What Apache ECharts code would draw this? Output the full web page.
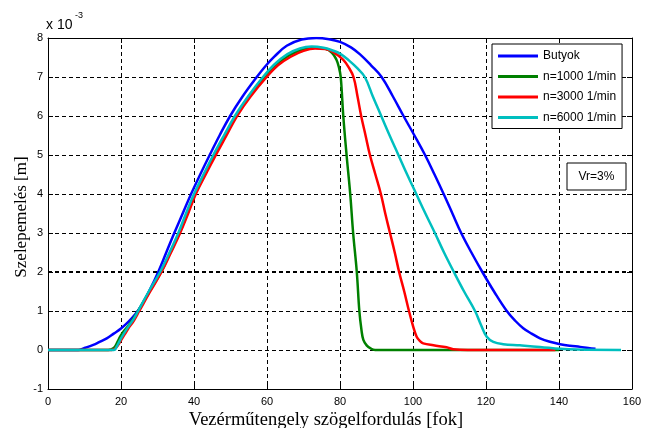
<!DOCTYPE html>
<html>
<head>
<meta charset="utf-8">
<script src="https://cdn.jsdelivr.net/npm/echarts@6/dist/echarts.min.js"></script>
<style>html,body{margin:0;padding:0;background:#fff;}#c{width:652px;height:428px;}</style>
</head>
<body>
<div id="c"></div>
<script>
var xTicks = [0, 20, 40, 60, 80, 100, 120, 140, 160];
var yTicks = [-1, 0, 1, 2, 3, 4, 5, 6, 7, 8];
var seriesNames = ['Butyok', 'n=1000 1/min', 'n=3000 1/min', 'n=6000 1/min'];

var butyok = [[0,0],[8.3,0],[10,0.05],[12.4,0.13],[14,0.2],[16.1,0.3],[18,0.42],[20,0.55],[22,0.72],[24,0.93],[26,1.2],[28,1.56],[30.2,2.0],[32.4,2.5],[34.6,3.0],[36.9,3.5],[39.2,4.0],[41.7,4.5],[44.3,5.0],[47,5.5],[49.9,6.0],[53.3,6.5],[57.2,7.0],[59.5,7.27],[62,7.52],[65.4,7.8],[69.5,7.96],[73.5,8.0],[77,7.97],[80,7.9],[83,7.76],[85.5,7.58],[88.5,7.3],[91.4,7.0],[94.5,6.5],[97.4,6.0],[100.4,5.5],[103.3,5.0],[105.9,4.5],[108.4,4.0],[110.8,3.5],[113.2,3.0],[116,2.5],[119,2.0],[122.2,1.5],[125.7,1.0],[128,0.75],[130.2,0.56],[132.5,0.42],[134.8,0.3],[137.5,0.21],[140.3,0.15],[143,0.11],[145.8,0.08],[148,0.05],[150,0.03]];
var n1000 = [[0,0],[16.5,0],[18,0.05],[19,0.2],[19.8,0.35],[20.5,0.45],[22,0.62],[23.5,0.82],[24.7,1.0],[27.8,1.5],[31,2.0],[33.5,2.5],[36,3.0],[38.2,3.5],[40.3,4.0],[42.9,4.5],[45.6,5.0],[48.5,5.5],[51.5,6.0],[55,6.5],[59.5,7.0],[62.5,7.3],[66,7.55],[69.5,7.7],[73,7.75],[76,7.72],[77.8,7.62],[79,7.45],[79.7,7.25],[80.2,7.0],[80.9,6.0],[81.8,5.0],[82.8,4.0],[83.6,3.0],[84.6,2.0],[85.3,1.0],[85.9,0.5],[86.4,0.26],[87.3,0.12],[88.4,0.04],[89.6,0],[140,0]];
var n3000 = [[0,0],[17.5,0],[19,0.1],[20,0.25],[21,0.4],[22,0.55],[23.5,0.75],[25,1.0],[28,1.5],[31.1,2.0],[33.7,2.5],[36.2,3.0],[38.4,3.5],[40.5,4.0],[43.2,4.5],[46,5.0],[48.9,5.5],[51.8,6.0],[55.5,6.5],[59.9,7.0],[63,7.3],[66.5,7.52],[70,7.67],[73.2,7.73],[76,7.72],[78.5,7.62],[80.9,7.44],[82.3,7.26],[83.7,7.0],[84.8,6.5],[85.8,6.0],[87,5.5],[88.2,5.0],[89.7,4.5],[91.2,4.0],[92.4,3.5],[93.7,3.0],[95,2.5],[96.2,2.0],[97.6,1.5],[98.9,1.0],[99.9,0.65],[101,0.34],[102,0.22],[102.8,0.17],[105.6,0.12],[109.2,0.07],[111,0.02],[115,0],[139,0]];
var n6000 = [[0,0],[18,0],[19,0.12],[20,0.3],[22,0.6],[23.5,0.8],[24.7,1.0],[27.6,1.5],[30.7,2.0],[33.3,2.5],[35.7,3.0],[37.8,3.5],[40,4.0],[42.6,4.5],[45.3,5.0],[48.2,5.5],[51.2,6.0],[54.8,6.5],[58.9,7.0],[62,7.32],[65.5,7.58],[69,7.73],[72.2,7.78],[75.5,7.75],[78,7.68],[80,7.6],[82.5,7.42],[84.8,7.22],[86.8,7.0],[89,6.5],[91.3,6.0],[93.6,5.5],[96,5.0],[98.4,4.5],[100.9,4.0],[103.4,3.5],[106,3.0],[108.5,2.5],[111.2,2.0],[114,1.5],[117,1.0],[118.6,0.65],[120.2,0.34],[122,0.21],[124.7,0.15],[129.3,0.12],[134.8,0.08],[140.3,0.03],[145,0.01],[157,0]];
var boldGridY = [2];

var colors = ['#0000ff', '#008000', '#ff0000', '#00bfbf'];
var dataSets = [butyok, n1000, n3000, n6000];

var chart = echarts.init(document.getElementById('c'), null, {renderer: 'canvas'});
var gridDash = {color: '#000', width: 1, type: [4, 3]};
var tickFont = {color: '#000', fontFamily: 'Liberation Sans, Arial, sans-serif', fontSize: 11};

var series = dataSets.map(function (d, i) {
  var s = {
    name: seriesNames[i],
    type: 'line',
    data: d,
    symbol: 'none',
    showSymbol: false,
    smooth: 0.4,
    lineStyle: {color: colors[i], width: 2.5},
    itemStyle: {color: colors[i]},
    z: 3 + i
  };
  if (i === 0) {
    s.markLine = {
      silent: true,
      symbol: 'none',
      label: {show: false},
      lineStyle: {color: '#000', width: 2, type: [4, 3]},
      data: boldGridY.map(function (v) { return {yAxis: v}; }),
      z: 1
    };
  }
  return s;
});

chart.setOption({
  animation: false,
  backgroundColor: '#fff',
  grid: {left: 48, right: 20, top: 38, bottom: 39, containLabel: false},
  xAxis: [{
    type: 'value', min: 0, max: 160, interval: 20, position: 'bottom',
    axisLine: {show: true, onZero: false, lineStyle: {color: '#000', width: 1}},
    axisTick: {show: true, inside: true, length: 5, lineStyle: {color: '#000'}},
    axisLabel: Object.assign({margin: 7, formatter: function (v) { return xTicks.indexOf(v) >= 0 ? String(v) : ''; }}, tickFont),
    splitLine: {show: true, lineStyle: gridDash}
  }, {
    type: 'value', min: 0, max: 160, interval: 20, position: 'top',
    axisLine: {show: true, onZero: false, lineStyle: {color: '#000', width: 1}},
    axisTick: {show: true, inside: true, length: 5, lineStyle: {color: '#000'}},
    axisLabel: {show: false},
    splitLine: {show: false}
  }],
  yAxis: [{
    type: 'value', min: -1, max: 8, interval: 1, position: 'left',
    axisLine: {show: true, onZero: false, lineStyle: {color: '#000', width: 1}},
    axisTick: {show: true, inside: true, length: 5, lineStyle: {color: '#000'}},
    axisLabel: Object.assign({margin: 5, formatter: function (v) { return yTicks.indexOf(v) >= 0 ? String(v) : ''; }}, tickFont),
    splitLine: {show: true, lineStyle: gridDash}
  }, {
    type: 'value', min: -1, max: 8, interval: 1, position: 'right',
    axisLine: {show: true, onZero: false, lineStyle: {color: '#000', width: 1}},
    axisTick: {show: true, inside: true, length: 5, lineStyle: {color: '#000'}},
    axisLabel: {show: false},
    splitLine: {show: false}
  }],
  legend: {
    orient: 'vertical',
    left: 492, top: 44,
    padding: [5, 6, 4, 6],
    itemWidth: 40, itemHeight: 3, itemGap: 6.5,
    backgroundColor: '#fff',
    borderColor: '#000', borderWidth: 1, borderRadius: 0,
    textStyle: {color: '#000', fontFamily: 'Liberation Sans, Arial, sans-serif', fontSize: 12, lineHeight: 14},
    data: seriesNames.map(function (n, i) { return {name: n, icon: 'rect', itemStyle: {color: colors[i]}}; }),
    z: 10
  },
  series: series,
  graphic: [
    {type: 'text', left: 46, top: 18, style: {text: 'x 10', fill: '#000', font: '14px "Liberation Sans", Arial, sans-serif'}},
    {type: 'text', left: 75, top: 11, style: {text: '-3', fill: '#000', font: '9px "Liberation Sans", Arial, sans-serif'}},
    {type: 'rect', shape: {x: 567, y: 163, width: 59, height: 27}, style: {fill: '#fff', stroke: '#000', lineWidth: 1}, z: 10},
    {type: 'text', x: 596.5, y: 177, style: {text: 'Vr=3%', fill: '#000', font: '12px "Liberation Sans", Arial, sans-serif', align: 'center', verticalAlign: 'middle'}, z: 11},
    {type: 'text', x: 326, y: 420, style: {text: 'Vezérműtengely szögelfordulás [fok]', fill: '#000', font: '18.5px "Liberation Serif", "Times New Roman", serif', align: 'center', verticalAlign: 'middle'}},
    {type: 'text', x: 22, y: 217, rotation: Math.PI / 2, style: {text: 'Szelepemelés [m]', fill: '#000', font: '17px "Liberation Serif", "Times New Roman", serif', align: 'center', verticalAlign: 'middle'}}
  ]
});
</script>
</body>
</html>
